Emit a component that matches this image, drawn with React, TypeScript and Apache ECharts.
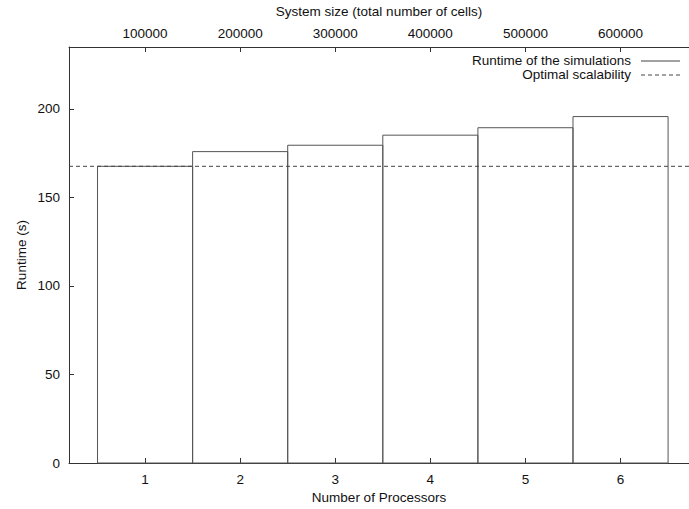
import React, { useEffect, useRef } from "react";
import * as echarts from "echarts";

const processors = [1, 2, 3, 4, 5, 6];
const runtimes = [167.6, 175.9, 179.5, 185.2, 189.4, 195.7];
const optimalRuntime = 167.6;
const systemSizeLabels = ["100000", "200000", "300000", "400000", "500000", "600000"];
const yTicks = [0, 50, 100, 150, 200];
const seriesNames = ["Runtime of the simulations", "Optimal scalability"];

const FONT = "'Liberation Sans', Arial, Helvetica, sans-serif";
const FS = 13.5;
const AXIS_COLOR = "#333";
const X_MIN = 0.2;
const X_MAX = 6.72;

export default function App() {
  const ref = useRef<HTMLDivElement>(null);
  useEffect(() => {
    if (!ref.current) return;
    const chart = echarts.init(ref.current, undefined, { renderer: "svg" });
    const textStyle = { fontFamily: FONT, fontSize: FS, color: "#111" };
    const barData = processors.map((p, i) => [p, runtimes[i]]);
    chart.setOption({
      animation: false,
      backgroundColor: "#fff",
      textStyle,
      grid: { left: 69, top: 47, right: 0, bottom: 46, containLabel: false, outerBoundsMode: "none" },
      xAxis: [
        {
          type: "value",
          position: "bottom",
          min: X_MIN,
          max: X_MAX,
          name: "Number of Processors",
          nameLocation: "middle",
          nameGap: 27,
          nameMoveOverlap: false,
          nameTextStyle: textStyle,
          axisLine: { show: true, onZero: false, lineStyle: { color: AXIS_COLOR, width: 1 } },
          axisTick: { show: true, inside: true, length: 5, customValues: processors, lineStyle: { color: AXIS_COLOR } },
          axisLabel: { ...textStyle, margin: 9, customValues: processors, formatter: (v: number) => String(v) },
          splitLine: { show: false },
        },
        {
          type: "value",
          position: "top",
          min: X_MIN,
          max: X_MAX,
          name: "System size (total number of cells)",
          nameLocation: "middle",
          nameGap: 29,
          nameMoveOverlap: false,
          nameTextStyle: textStyle,
          axisLine: { show: true, onZero: false, lineStyle: { color: AXIS_COLOR, width: 1 } },
          axisTick: { show: true, inside: true, length: 5, customValues: processors, lineStyle: { color: AXIS_COLOR } },
          axisLabel: {
            ...textStyle,
            margin: 7,
            customValues: processors,
            formatter: (v: number) => systemSizeLabels[Math.round(v) - 1] ?? "",
          },
          splitLine: { show: false },
        },
      ],
      yAxis: {
        type: "value",
        min: 0,
        max: 235,
        name: "Runtime (s)",
        nameLocation: "middle",
        nameGap: 41,
        nameRotate: 90,
        nameMoveOverlap: false,
        nameTextStyle: textStyle,
        axisLine: { show: true, onZero: false, lineStyle: { color: AXIS_COLOR, width: 1 } },
        axisTick: { show: true, inside: true, length: 5, customValues: yTicks, lineStyle: { color: AXIS_COLOR } },
        axisLabel: { ...textStyle, margin: 9, customValues: yTicks },
        splitLine: { show: false },
      },
      series: [
        {
          name: seriesNames[0],
          type: "custom",
          xAxisIndex: 0,
          data: barData,
          renderItem: (params: any, api: any) => {
            const x = api.value(0);
            const v = api.value(1);
            const tl = api.coord([x - 0.5, v]);
            const br = api.coord([x + 0.5, 0]);
            return {
              type: "rect",
              shape: { x: tl[0], y: tl[1], width: br[0] - tl[0], height: br[1] - tl[1] },
              style: { fill: "none", stroke: "#555", lineWidth: 1 },
            };
          },
        },
        {
          name: seriesNames[1],
          type: "line",
          xAxisIndex: 0,
          symbol: "none",
          data: [
            [X_MIN, optimalRuntime],
            [X_MAX, optimalRuntime],
          ],
          lineStyle: { color: "#444", width: 1, type: [4, 3] },
          z: 3,
        },
      ],
      graphic: [
        {
          type: "text",
          right: 58,
          top: 53,
          style: { text: seriesNames[0], font: `${FS}px ${FONT}`, fill: "#111", textAlign: "right" },
        },
        {
          type: "text",
          right: 58,
          top: 67,
          style: { text: seriesNames[1], font: `${FS}px ${FONT}`, fill: "#111", textAlign: "right" },
        },
        {
          type: "line",
          shape: { x1: 641, y1: 61, x2: 680, y2: 61 },
          style: { stroke: "#444", lineWidth: 1 },
        },
        {
          type: "line",
          shape: { x1: 641, y1: 75, x2: 680, y2: 75 },
          style: { stroke: "#444", lineWidth: 1, lineDash: [4, 3] },
        },
      ],
    });
    return () => chart.dispose();
  }, []);
  return <div ref={ref} style={{ width: 689, height: 509, position: "absolute", left: 0, top: 0 }} />;
}
